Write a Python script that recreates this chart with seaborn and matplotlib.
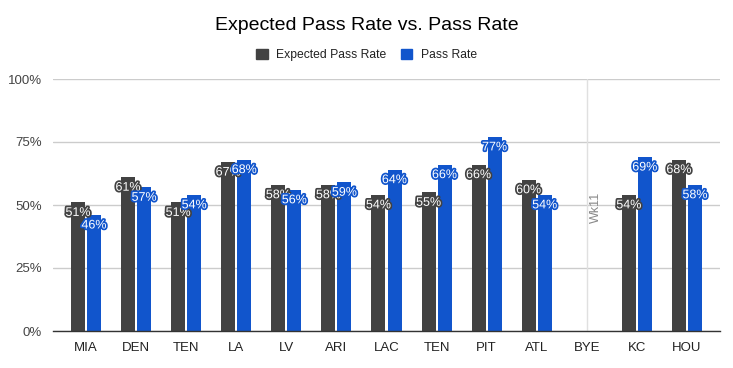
import pandas as pd
import numpy as np
import matplotlib
matplotlib.use("Agg")
import matplotlib.pyplot as plt
import matplotlib.patheffects as pe
import seaborn as sns

opponents = ["MIA", "DEN", "TEN", "LA", "LV", "ARI", "LAC", "TEN", "PIT", "ATL", "BYE", "KC", "HOU"]
expected_pass = [51, 61, 51, 67, 58, 58, 54, 55, 66, 60, np.nan, 54, 68]
pass_rate = [46, 57, 54, 68, 56, 59, 64, 66, 77, 54, np.nan, 69, 58]
series = ["Expected Pass Rate", "Pass Rate"]
colors = ["#424242", "#1155cc"]

games = [str(i) for i in range(len(opponents))]
df = pd.DataFrame({
    "game": games * 2,
    "series": [series[0]] * len(games) + [series[1]] * len(games),
    "rate": list(np.array(expected_pass) / 100) + list(np.array(pass_rate) / 100),
})

sns.set_style("white")
plt.rcParams["font.family"] = ["Liberation Sans", "DejaVu Sans"]

fig = plt.figure(figsize=(7.33, 3.68), dpi=100)
ax = fig.add_axes([53 / 733, 1 - 331 / 368, 667 / 733, 252 / 368])

sns.barplot(data=df, x="game", y="rate", hue="series", order=games,
            hue_order=series, palette=colors, width=0.6,
            saturation=1, linewidth=0, ax=ax, legend=False)

# bar width ~14px with a 2px gap, like the sheets chart
bw = 0.28
for k, cont in enumerate(ax.containers):
    for bar in cont:
        grp = round(bar.get_x() + bar.get_width() / 2)
        bar.set_width(bw)
        bar.set_x(grp + (-0.02 - bw if k == 0 else 0.02))

ax.set_xlim(-0.66, 12.66)
ax.set_ylim(0, 1)
ax.set_yticks([0, 0.25, 0.5, 0.75, 1.0])
ax.set_yticklabels(["0%", "25%", "50%", "75%", "100%"], color="#444444", fontsize=9.5)
ax.set_xticks(range(len(opponents)))
ax.set_xticklabels(opponents, color="#222222", fontsize=9.5)
ax.tick_params(axis="both", length=0, pad=8)
ax.set_xlabel("")
ax.set_ylabel("")
ax.grid(axis="y", color="#cccccc", linewidth=1)
ax.set_axisbelow(True)
for s in ["top", "right", "left"]:
    ax.spines[s].set_visible(False)
ax.spines["bottom"].set_color("#333333")
ax.spines["bottom"].set_linewidth(1)
ax.spines["bottom"].set_zorder(5)

# bye week marker
bye = opponents.index("BYE")
ax.axvline(bye, color="#e0e0e0", linewidth=1, zorder=1)
ax.text(bye + 0.18, 0.49, "Wk11", rotation=90, ha="center", va="center",
        color="#888888", fontsize=9)

# value labels
for cont, color in zip(ax.containers, colors):
    for bar in cont:
        h = bar.get_height()
        if np.isnan(h) or h == 0:
            continue
        ax.annotate(f"{h * 100:.0f}%", (bar.get_x() + bar.get_width() / 2, h),
                    xytext=(0, -7.5), textcoords="offset points", ha="center", va="center",
                    color="white", fontsize=9, zorder=6,
                    path_effects=[pe.withStroke(linewidth=2.5, foreground=color)])

fig.text(0.5, 1 - 25 / 368, "Expected Pass Rate vs. Pass Rate", ha="center", va="center",
         fontsize=14, color="#000000")

handles = [plt.Rectangle((0, 0), 1, 1, color=c) for c in colors]
fig.legend(handles, series, loc="center", bbox_to_anchor=(0.5, 1 - 55 / 368), ncol=2,
           frameon=False, fontsize=8.7, handlelength=0.95, handleheight=0.95,
           handletextpad=0.7, columnspacing=1.2, labelcolor="#222222")

fig.savefig("out.png", dpi=100)
